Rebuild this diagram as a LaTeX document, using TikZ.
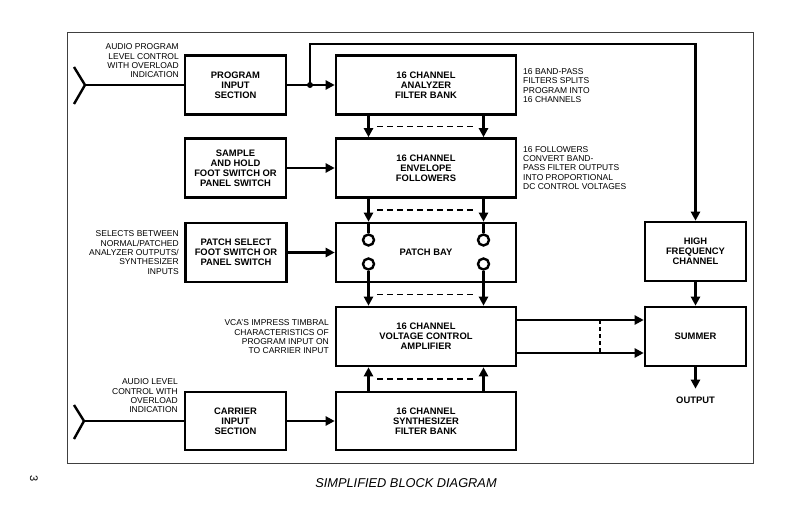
\documentclass[tikz,border=0pt]{standalone}
\usepackage{fontspec}
\setmainfont{Liberation Sans}
\usetikzlibrary{arrows.meta,calc}

\begin{document}
\begin{tikzpicture}[x=1pt,y=-1pt,
  box/.style={draw=black,line width=2.6pt,fill=white,minimum width=101pt,minimum height=59pt,inner sep=0pt,align=center,font=\bfseries\fontsize{9.4}{10}\selectfont},
  widebox/.style={box,minimum width=180pt},
  note/.style={inner sep=0pt,font=\fontsize{8.5}{9.3}\selectfont},
  wire/.style={line width=2.4pt},
  flow/.style={wire,-{Triangle[length=9pt,width=9pt]}},
  dashline/.style={line width=1.8pt,dash pattern=on 6pt off 4pt},
  jack/.style={circle,draw=black,line width=2.4pt,fill=white,minimum size=11pt,inner sep=0pt},
  border/.style={line width=1pt,draw=black!75}]
\useasboundingbox[fill=white] (0,0) rectangle (799,513);
\draw[border] (67,33) rectangle (753,463);

% left column
\node[box] (prog) at (235.5,85) {PROGRAM\\INPUT\\SECTION};
\node[box] (sample) at (235.5,168) {SAMPLE\\AND HOLD\\FOOT SWITCH OR\\PANEL SWITCH};
\node[box] (patchsel) at (236,252.5) {PATCH SELECT\\FOOT SWITCH OR\\PANEL SWITCH};
\node[box,minimum height=58pt] (carrier) at (235.5,421) {CARRIER\\INPUT\\SECTION};

% middle column
\node[widebox] (analyzer) at (426,85) {16 CHANNEL\\ANALYZER\\FILTER BANK};
\node[widebox] (envelope) at (426,168) {16 CHANNEL\\ENVELOPE\\FOLLOWERS};
\node[widebox] (patchbay) at (426,252.5) {PATCH BAY};
\node[widebox] (vca) at (426,336.5) {16 CHANNEL\\VOLTAGE CONTROL\\AMPLIFIER};
\node[widebox,minimum height=58pt] (synth) at (426,421) {16 CHANNEL\\SYNTHESIZER\\FILTER BANK};

% right column
\node[box] (hifreq) at (695.5,251.5) {HIGH\\FREQUENCY\\CHANNEL};
\node[box] (summer) at (695.5,336.5) {SUMMER};
\node[inner sep=0pt,outer sep=8pt,font=\bfseries\fontsize{9.4}{10}\selectfont] (output) at (695.5,400) {OUTPUT};

% patch bay jacks
\node[jack] (pa1) at (368.5,240) {};
\node[jack] (pa2) at (368.5,264) {};
\node[jack] (pb1) at (483.5,240) {};
\node[jack] (pb2) at (483.5,264) {};

% notes
\node[note,anchor=east,align=right] (progann) at (179,61) {AUDIO PROGRAM\\LEVEL CONTROL\\WITH OVERLOAD\\INDICATION};
\node[note,anchor=east,align=right] (patchann) at (179,252.5) {SELECTS BETWEEN\\NORMAL/PATCHED\\ANALYZER OUTPUTS/\\SYNTHESIZER\\INPUTS};
\node[note,anchor=east,align=right] (vcaann) at (329,337) {VCA'S IMPRESS TIMBRAL\\CHARACTERISTICS OF\\PROGRAM INPUT ON\\TO CARRIER INPUT};
\node[note,anchor=east,align=right] (carrierann) at (178,396) {AUDIO LEVEL\\CONTROL WITH\\OVERLOAD\\INDICATION};
\node[note,anchor=west,align=left] (analyzerann) at (523,85.5) {16 BAND-PASS\\FILTERS SPLITS\\PROGRAM INTO\\16 CHANNELS};
\node[note,anchor=west,align=left] (envelopeann) at (523,168) {16 FOLLOWERS\\CONVERT BAND-\\PASS FILTER OUTPUTS\\INTO PROPORTIONAL\\DC CONTROL VOLTAGES};

% inputs
\coordinate (progfeed) at (85,85);
\coordinate (progarmA) at (74,67);
\coordinate (progarmB) at (74,104);
\draw[wire] (progarmA) -- (progfeed) -- (progarmB);
\draw[wire] (progfeed) -- (prog.west);
\coordinate (carfeed) at (84,421);
\coordinate (cararmA) at (74,405);
\coordinate (cararmB) at (74,439);
\draw[wire] (cararmA) -- (carfeed) -- (cararmB);
\draw[wire] (carfeed) -- (carrier.west);

% program path
\coordinate (jn) at (310,85);
\coordinate (hfturn) at (695.5,44);
\draw[flow] (prog.east) -- (analyzer.west);
\fill (jn) circle[radius=3pt];
\draw[flow] (jn) |- (hfturn) -- (hifreq.north);
\draw[flow] (sample.east) -- (envelope.west);
\draw[flow] (patchsel.east) -- (patchbay.west);
\draw[flow] (carrier.east) -- (synth.west);

% channel links
\draw[flow] ([xshift=-57.5pt]analyzer.south) -- ([xshift=-57.5pt]envelope.north);
\draw[flow] ([xshift=57.5pt]analyzer.south) -- ([xshift=57.5pt]envelope.north);
\draw[dashline] ($(analyzer.south)!.5!(envelope.north)+(-49,0)$) -- ($(analyzer.south)!.5!(envelope.north)+(49,0)$);
\draw[flow] (envelope.south -| pa1) -- (patchbay.north -| pa1);
\draw[flow] (envelope.south -| pb1) -- (patchbay.north -| pb1);
\draw[dashline] ($(envelope.south)!.5!(patchbay.north)+(-49,0)$) -- ($(envelope.south)!.5!(patchbay.north)+(49,0)$);
\draw[wire] (patchbay.north -| pa1) -- (pa1.north);
\draw[wire] (patchbay.north -| pb1) -- (pb1.north);
\draw[flow] (pa2.south) -- (vca.north -| pa2);
\draw[flow] (pb2.south) -- (vca.north -| pb2);
\draw[dashline] ($(patchbay.south)!.5!(vca.north)+(-49,0)$) -- ($(patchbay.south)!.5!(vca.north)+(49,0)$);
\draw[flow] ([xshift=-57.5pt]synth.north) -- ([xshift=-57.5pt]vca.south);
\draw[flow] ([xshift=57.5pt]synth.north) -- ([xshift=57.5pt]vca.south);
\draw[dashline] ($(vca.south)!.5!(synth.north)+(-49,0)$) -- ($(vca.south)!.5!(synth.north)+(49,0)$);

% summing
\draw[flow] ([yshift=16.5pt]vca.east) -- ([yshift=16.5pt]summer.west);
\draw[flow] ([yshift=-16.5pt]vca.east) -- ([yshift=-16.5pt]summer.west);
\coordinate (sumtop) at (600,320);
\coordinate (sumbot) at (600,353);
\draw[line width=1.4pt,dash pattern=on 4pt off 3pt] (sumtop) -- (sumbot);
\draw[flow] (hifreq.south) -- (summer.north);
\draw[flow] (summer.south) -- (output.north);

% caption
\node[font=\itshape\fontsize{12.8}{14}\selectfont] (caption) at (406,483) {SIMPLIFIED BLOCK DIAGRAM};
\node[rotate=-90,font=\fontsize{11}{12}\selectfont] (pagenum) at (34,479) {3};
\end{tikzpicture}
\end{document}
